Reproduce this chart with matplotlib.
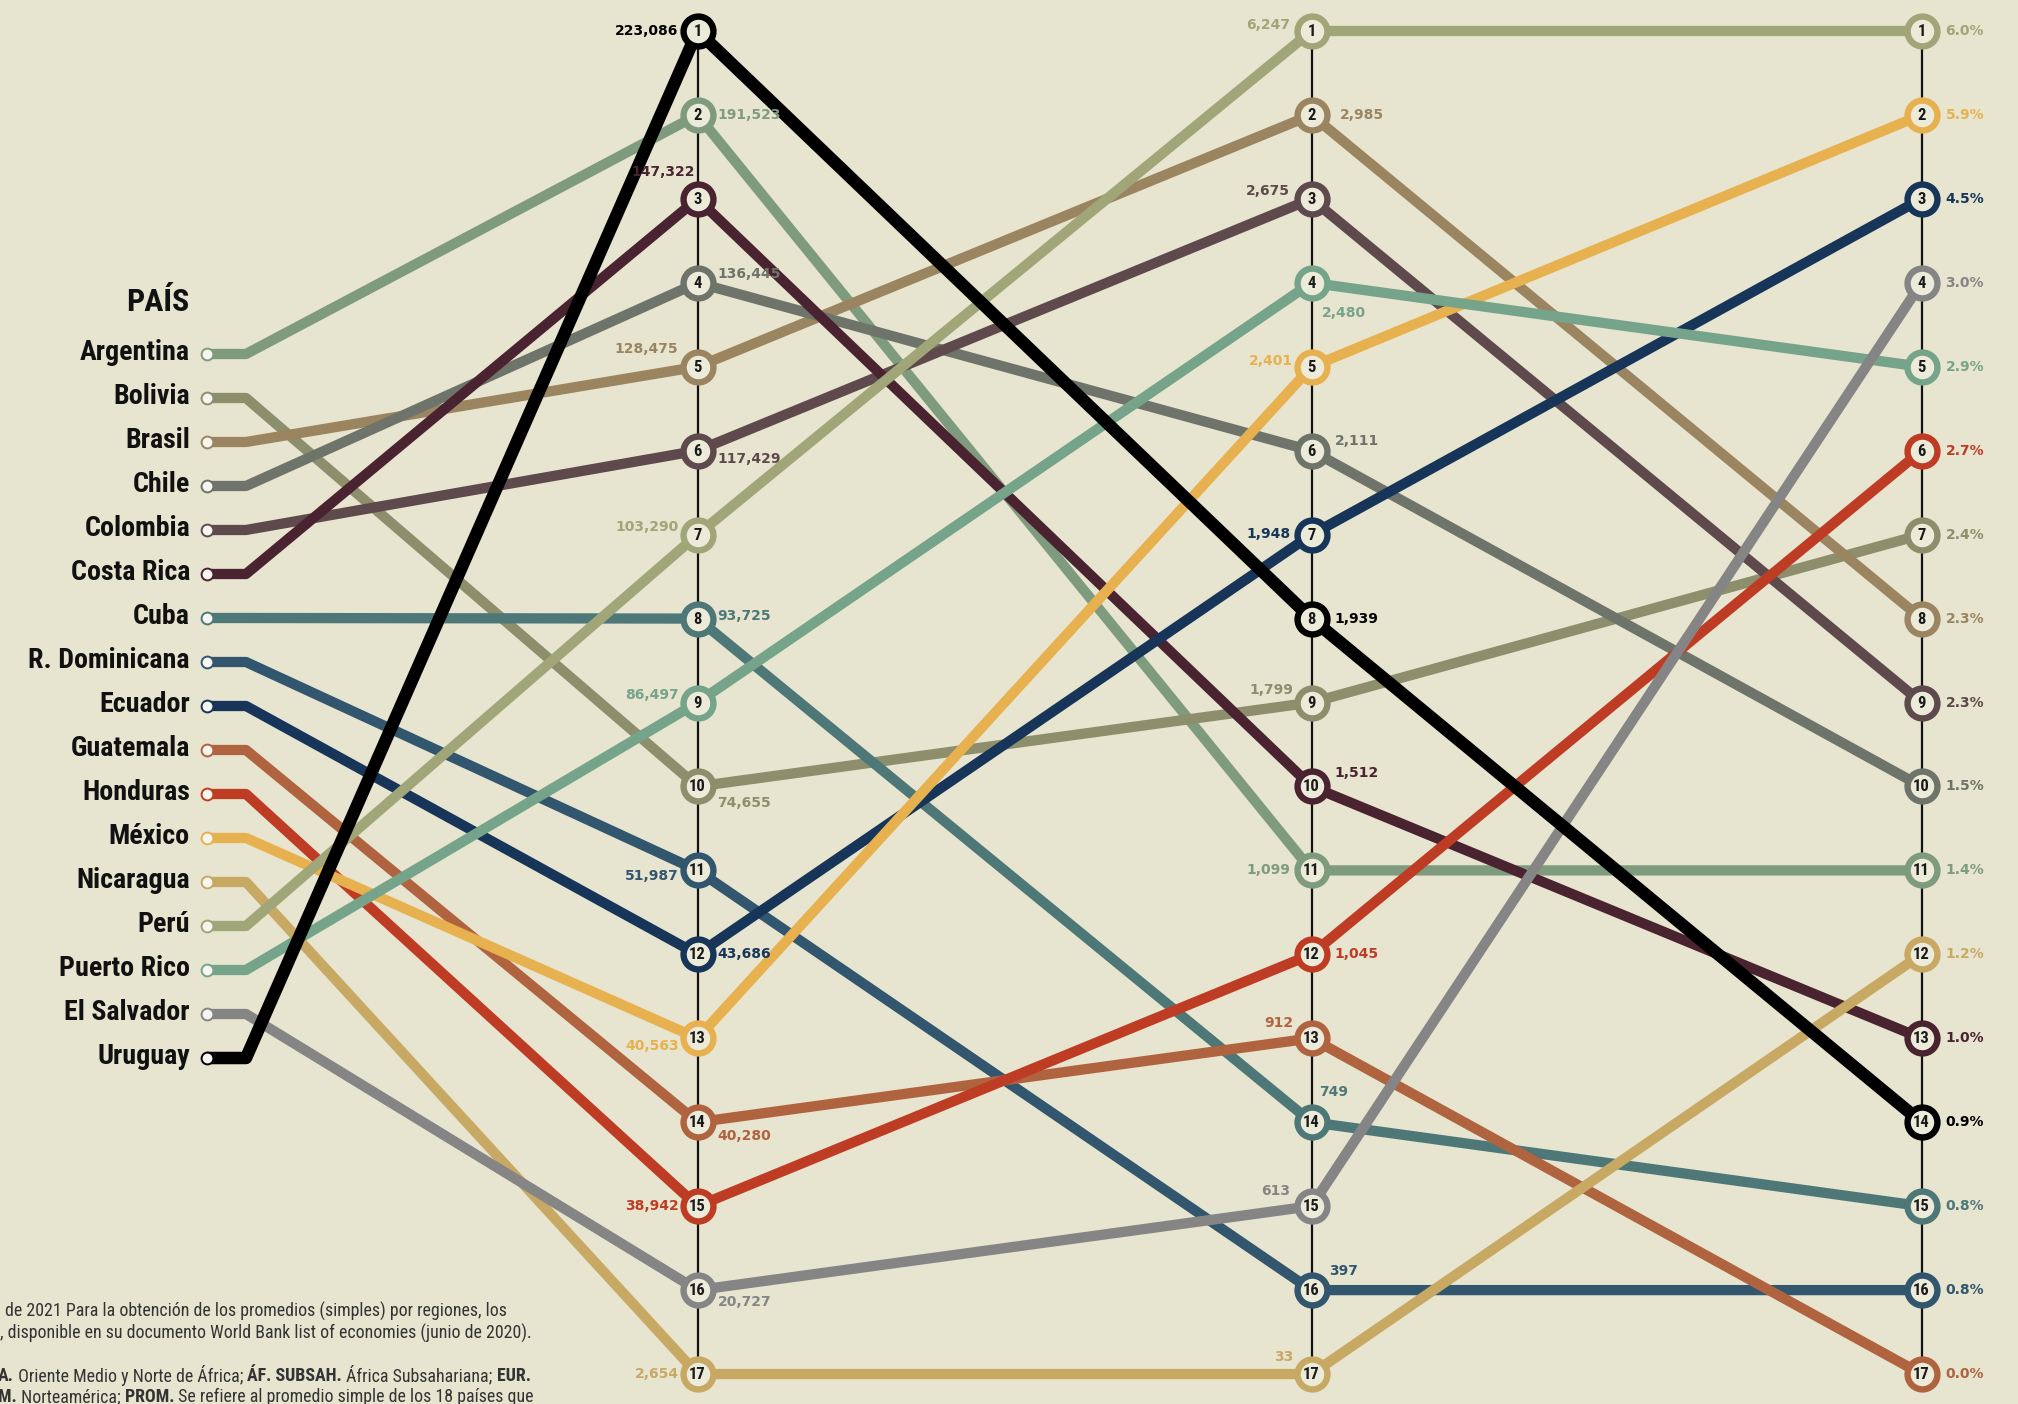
import matplotlib
matplotlib.use("Agg")
import matplotlib.pyplot as plt

# ---------------- data ----------------
countries = ["Argentina", "Bolivia", "Brasil", "Chile", "Colombia", "Costa Rica", "Cuba",
             "R. Dominicana", "Ecuador", "Guatemala", "Honduras", "México", "Nicaragua",
             "Perú", "Puerto Rico", "El Salvador", "Uruguay"]
rank_col1 = [2, 10, 5, 4, 6, 3, 8, 11, 12, 14, 15, 13, 17, 7, 9, 16, 1]
rank_col2 = [11, 9, 2, 6, 3, 10, 14, 16, 7, 13, 12, 5, 17, 1, 4, 15, 8]
rank_col3 = [11, 7, 8, 10, 9, 13, 15, 16, 3, 17, 6, 2, 12, 1, 5, 4, 14]
value_col1 = ["191,523", "74,655", "128,475", "136,445", "117,429", "147,322", "93,725",
              "51,987", "43,686", "40,280", "38,942", "40,563", "2,654", "103,290",
              "86,497", "20,727", "223,086"]
value_col2 = ["1,099", "1,799", "2,985", "2,111", "2,675", "1,512", "749", "397", "1,948",
              "912", "1,045", "2,401", "33", "6,247", "2,480", "613", "1,939"]
value_col3 = ["1.4%", "2.4%", "2.3%", "1.5%", "2.3%", "1.0%", "0.8%", "0.8%", "4.5%",
              "0.0%", "2.7%", "5.9%", "1.2%", "6.0%", "2.9%", "3.0%", "0.9%"]
header = "PAÍS"

colors = ["#7f9b7d", "#8c8e6c", "#9a8560", "#6f746a", "#5e4a4d", "#4a2330", "#4e7878",
          "#31566d", "#163558", "#b0633f", "#bf3c24", "#e8b14f", "#c8a964", "#a0a678",
          "#76a48a", "#858585", "#000000"]

# ---------------- layout ----------------
W, H = 2018, 1404
BG = "#e7e4cf"
COL_X = [697.5, 1311.5, 1921.5]
RANK1_Y, RANK_STEP = 31.0, 83.94
ROW0_Y, ROW_STEP = 354.0, 44.0
LEFT_DOT_X, BEND_X, LABEL_X = 207.0, 246.0, 190.0

NARROW = ["Liberation Sans Narrow", "Roboto Condensed", "Liberation Sans", "DejaVu Sans"]
WIDE = ["DejaVu Sans"]

def rank_y(r):
    return RANK1_Y + (r - 1) * RANK_STEP

# label offsets (dx, dy) per rank, per column
place1 = {1: (-19, 0), 2: (20, 0), 3: (-3, -27), 4: (20, -9), 5: (-19, -18), 6: (20, 8),
          7: (-19, -8), 8: (20, -3), 9: (-19, -8), 10: (20, 17), 11: (-19, 6), 12: (20, 0),
          13: (-19, 8), 14: (20, 14), 15: (-19, 0), 16: (20, 12), 17: (-19, 0)}
place2 = {1: (-21, -6), 2: (28, 0), 3: (-22, -8), 4: (10, 30), 5: (-19, -6), 6: (23, -10),
          7: (-21, -1), 8: (23, 0), 9: (-18, -13), 10: (23, -13), 11: (-21, 0), 12: (23, 0),
          13: (-18, -15), 14: (8, -30), 15: (-21, -15), 16: (18, -19), 17: (-18, -17)}
place3 = {r: (24, 0) for r in range(1, 18)}

fig = plt.figure(figsize=(W / 100, H / 100), dpi=100, facecolor=BG)
ax = fig.add_axes([0, 0, 1, 1])
ax.set_xlim(0, W)
ax.set_ylim(H, 0)
ax.axis("off")
ax.set_facecolor(BG)

# vertical axes
for cx in COL_X:
    ax.plot([cx, cx], [rank_y(1), rank_y(17)], color="#111111", lw=1.6, zorder=1,
            solid_capstyle="butt")

# header
ax.text(LABEL_X, 311, header, ha="right", va="baseline", fontsize=23, fontweight="bold",
        family=NARROW, color="#111111", zorder=5)

# lines
for i, name in enumerate(countries):
    row_y = ROW0_Y + i * ROW_STEP
    xs = [LEFT_DOT_X, BEND_X] + COL_X
    ys = [row_y, row_y, rank_y(rank_col1[i]), rank_y(rank_col2[i]), rank_y(rank_col3[i])]
    lw = 9.0 if name == "Uruguay" else 7.4
    z = 4 if name == "Uruguay" else 2 + i * 0.01
    ax.plot(xs, ys, color=colors[i], lw=lw, solid_joinstyle="round",
            solid_capstyle="butt", zorder=z)
    ax.plot([LEFT_DOT_X], [row_y], marker="o", ms=8.5, mfc="#f6f5ef", mec=colors[i],
            mew=1.4, zorder=6)
    ax.text(LABEL_X, row_y + 6.5, name, ha="right", va="baseline", fontsize=20.2,
            fontweight="bold", family=NARROW, color="#111111", zorder=5)

# rank circles and value labels
cols = [(rank_col1, value_col1, place1), (rank_col2, value_col2, place2),
        (rank_col3, value_col3, place3)]
for ci, (ranks, vals, place) in enumerate(cols):
    cx = COL_X[ci]
    for i in range(len(countries)):
        r = ranks[i]
        y = rank_y(r)
        ax.plot([cx], [y], marker="o", ms=21.5, mfc="#ecead8", mec=colors[i], mew=4.6,
                zorder=7)
        ax.text(cx, y + 0.5, str(r), ha="center", va="center", fontsize=12,
                fontweight="bold", family=NARROW, color="#1a1a1a", zorder=8)
        dx, dy = place[r]
        ax.text(cx + dx, y + dy, vals[i], ha="left" if dx > 0 else "right",
                va="center", fontsize=10, fontweight="bold", family=WIDE,
                color=colors[i], zorder=8)

# footnote (partially cropped in the reference)
fig.canvas.draw()
renderer = fig.canvas.get_renderer()

def rich_line(x, y, parts):
    for txt, bold in parts:
        t = ax.text(x, y, txt, ha="left", va="center", fontsize=12.9, family=NARROW,
                    fontweight="bold" if bold else "normal", color="#333333", zorder=1)
        bb = t.get_window_extent(renderer)
        x += bb.width

rich_line(5, 1311, [("de 2021 Para la obtención de los promedios (simples) por regiones, los", False)])
rich_line(0, 1333, [(", disponible en su documento World Bank list of economies (junio de 2020).", False)])
rich_line(-2, 1376, [("A.", True), (" Oriente Medio y Norte de África; ", False),
                     ("ÁF. SUBSAH.", True), (" África Subsahariana; ", False), ("EUR.", True)])
rich_line(-2, 1397, [("M.", True), (" Norteamérica; ", False), ("PROM.", True),
                     (" Se refiere al promedio simple de los 18 países que", False)])

fig.savefig("out.png", dpi=100, facecolor=BG)
